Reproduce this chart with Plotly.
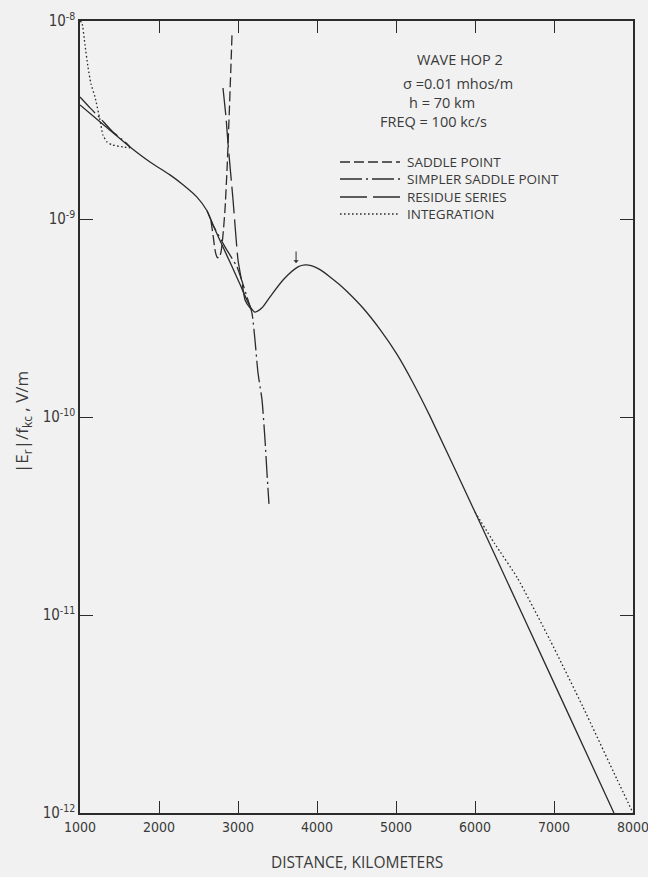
import math
import plotly.graph_objects as go

# ---------------- data (distance in km, |Er|/fkc in V/m) ----------------
main_km = [1000, 1316, 1633, 1886, 2139, 2304, 2481, 2608, 2684, 2797, 2924, 3025,
           3114, 3165, 3215, 3304, 3405, 3570, 3759, 3848, 3937, 4038, 4165, 4280,
           4380, 4582, 4797, 5013, 5215, 5430, 6000, 6600, 7200, 7759]
main_val = [3.77e-9, 2.95e-9, 2.31e-9, 1.94e-9, 1.67e-9, 1.49e-9, 1.29e-9, 1.10e-9,
            9.33e-10, 7.41e-10, 5.75e-10, 4.68e-10, 3.89e-10, 3.55e-10, 3.39e-10,
            3.56e-10, 4.04e-10, 4.92e-10, 5.73e-10, 5.86e-10, 5.79e-10, 5.55e-10,
            5.10e-10, 4.68e-10, 4.30e-10, 3.55e-10, 2.77e-10, 2.07e-10, 1.49e-10,
            1.01e-10, 3.31e-11, 1.005e-11, 3.05e-12, 1.00e-12]

saddle_km = [2658, 2684, 2709, 2734, 2759, 2785, 2810, 2835, 2861, 2886, 2911, 2924]
saddle_val = [9.75e-10, 8.30e-10, 6.97e-10, 6.43e-10, 6.35e-10, 6.81e-10, 8.30e-10,
              1.11e-9, 1.77e-9, 3.16e-9, 6.00e-9, 8.49e-9]

simpler_km = [1000, 1127, 1253, 1405, 1570, 1633, None,
              2608, 2684, 2835, 2987, 3114, 3177, 3215, 3253, 3304, 3342, 3367, 3392]
simpler_val = [4.13e-9, 3.64e-9, 3.24e-9, 2.78e-9, 2.45e-9, 2.31e-9, None,
               1.10e-9, 9.33e-10, 7.23e-10, 5.73e-10, 4.04e-10, 3.35e-10, 2.45e-10,
               1.67e-10, 1.22e-10, 7.66e-11, 5.21e-11, 3.64e-11]

residue_km = [2810, 2848, 2873, 2937, 3000, 3051, 3089, 3152, 3215]
residue_val = [4.59e-9, 3.27e-9, 2.42e-9, 1.25e-9, 6.21e-10, 4.75e-10, 3.90e-10,
               3.56e-10, 3.39e-10]

integ_km = [1000, 1025, 1063, 1101, 1139, 1190, 1253, 1291, 1342, 1405, 1544, 1633, None,
            6000, 6250, 6532, 6949, 7367, 7797, 8000]
integ_val = [1.00e-8, 9.77e-9, 7.57e-9, 5.86e-9, 4.81e-9, 4.13e-9, 3.16e-9, 2.65e-9,
             2.45e-9, 2.37e-9, 2.31e-9, 2.29e-9, None,
             3.31e-11, 2.29e-11, 1.55e-11, 7.48e-12, 3.43e-12, 1.48e-12, 1.00e-12]

x_ticks = [1000, 2000, 3000, 4000, 5000, 6000, 7000, 8000]
y_ticks = [1e-12, 1e-11, 1e-10, 1e-9, 1e-8]
y_ticktext = ["10<sup>-12</sup>", "10<sup>-11</sup>", "10<sup>-10</sup>",
              "10<sup>-9</sup>", "10<sup>-8</sup>"]

peak_km = 3735
peak_val = 5.86e-10

legend_names = ["SADDLE POINT", "SIMPLER SADDLE POINT", "RESIDUE SERIES", "INTEGRATION"]
header_lines = ["WAVE HOP 2", "σ =0.01 mhos/m", "h = 70 km", "FREQ = 100 kc/s"]

# ---------------- styles ----------------
INK = "#2b2b2b"
TXT = "#3a3a3a"
BG = "#f1f1f1"
DASHES = {
    "SADDLE POINT": "10px,4px",
    "SIMPLER SADDLE POINT": "22px,4px,2px,4px",
    "RESIDUE SERIES": "27px,6px",
    "INTEGRATION": "1.6px,2.4px",
}
LW = 1.3
NARROW = "Liberation Sans Narrow, DejaVu Sans Condensed, sans-serif"
SANS = "Open Sans, DejaVu Sans, sans-serif"

fig = go.Figure()

fig.add_trace(go.Scatter(x=main_km, y=main_val, mode="lines", name="composite",
                         showlegend=False,
                         line=dict(color=INK, width=LW, shape="spline", smoothing=0.7)))
series = [
    ("SADDLE POINT", saddle_km, saddle_val),
    ("SIMPLER SADDLE POINT", simpler_km, simpler_val),
    ("RESIDUE SERIES", residue_km, residue_val),
    ("INTEGRATION", integ_km, integ_val),
]
for name, xs, ys in series:
    fig.add_trace(go.Scatter(x=xs, y=ys, mode="lines", name=name, showlegend=False,
                             connectgaps=False,
                             line=dict(color=INK, width=LW, dash=DASHES[name],
                                       shape="spline", smoothing=0.5)))

# ---------------- layout geometry (plot area 80..633 x 21..813 px) ----------------
L, R, T, B = 80, 15, 21, 64
W, H = 648, 877
PW = W - L - R
PH = H - T - B


def px(xp):
    return (xp - L) / PW


def py(yp):
    return (H - B - yp) / PH


# legend samples and labels
leg_rows = [162, 179, 197, 214]
for name, yr in zip(legend_names, leg_rows):
    fig.add_shape(type="line", xref="paper", yref="paper",
                  x0=px(340), x1=px(400), y0=py(yr), y1=py(yr),
                  line=dict(color=INK, width=LW, dash=DASHES[name]))
    fig.add_annotation(xref="paper", yref="paper", x=px(405), y=py(yr),
                       xanchor="left", yanchor="middle", showarrow=False,
                       text=name, font=dict(family=SANS, size=13.5, color=TXT))

header_pos = [(415, 60), (401, 83), (407, 102), (378, 122)]
for txt, (xp, yp) in zip(header_lines, header_pos):
    fig.add_annotation(xref="paper", yref="paper", x=px(xp), y=py(yp),
                       xanchor="left", yanchor="middle", showarrow=False,
                       text=txt, font=dict(family=SANS, size=14.5, color=TXT))

# arrow at the peak
fig.add_annotation(x=peak_km, y=math.log10(peak_val) + 0.01, xref="x", yref="y",
                   text="", showarrow=True, ax=0, ay=-13, arrowhead=1,
                   arrowsize=0.9, arrowwidth=1, arrowcolor=INK)

# axis titles
fig.add_annotation(xref="paper", yref="paper", x=px(23), y=py(422),
                   text="|E<sub>r</sub>|/f<sub>kc</sub> , V/m", textangle=-90,
                   showarrow=False, xanchor="center", yanchor="middle",
                   font=dict(family=SANS, size=17, color=TXT))
fig.add_annotation(xref="paper", yref="paper", x=px(357), y=py(862),
                   text="DISTANCE, KILOMETERS", showarrow=False,
                   xanchor="center", yanchor="middle",
                   font=dict(family=SANS, size=15.5, color=TXT))

fig.update_xaxes(range=[1000, 8000], tickvals=x_ticks,
                 ticktext=[str(v) for v in x_ticks],
                 ticks="inside", ticklen=12, tickwidth=1, tickcolor=INK,
                 showline=True, linecolor=INK, linewidth=1.5, mirror="ticks",
                 showgrid=False, zeroline=False, ticklabeloverflow="allow",
                 automargin=False,
                 tickfont=dict(family=NARROW, size=14, color=TXT))
fig.update_yaxes(type="log", range=[-12, -8], tickvals=y_ticks, ticktext=y_ticktext,
                 ticks="inside", ticklen=13, tickwidth=1, tickcolor=INK,
                 showline=True, linecolor=INK, linewidth=1.5, mirror="ticks",
                 showgrid=False, zeroline=False, ticklabeloverflow="allow",
                 automargin=False,
                 tickfont=dict(family=NARROW, size=15, color=TXT))

fig.update_layout(width=W, height=H, margin=dict(l=L, r=R, t=T, b=B, autoexpand=False),
                  paper_bgcolor=BG, plot_bgcolor=BG, showlegend=False)

fig.write_html("out.html")
